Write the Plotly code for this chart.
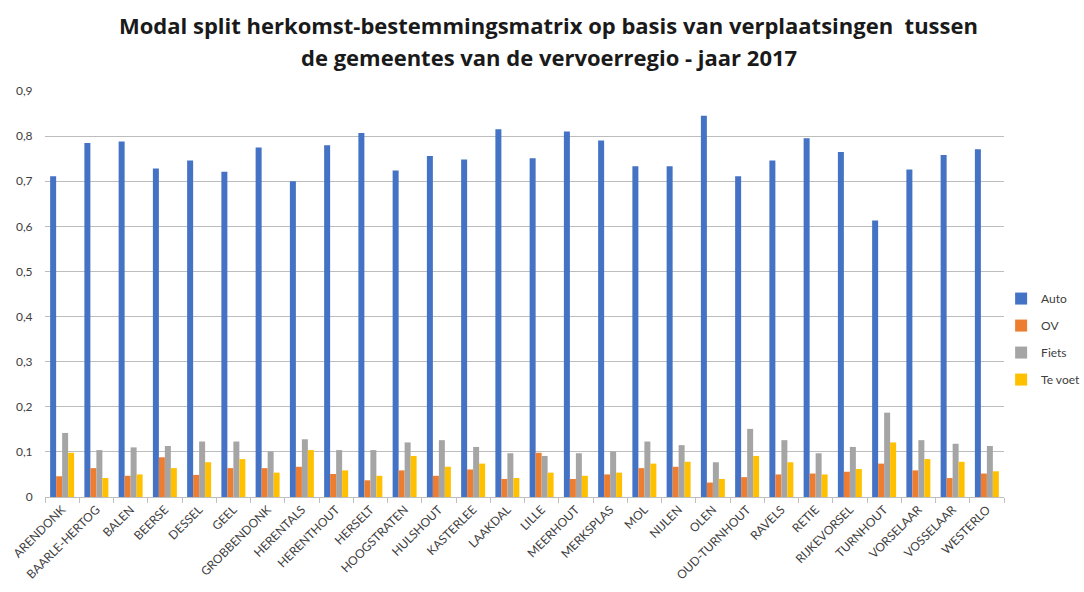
import plotly.graph_objects as go

gemeenten = [
    "ARENDONK", "BAARLE-HERTOG", "BALEN", "BEERSE", "DESSEL", "GEEL",
    "GROBBENDONK", "HERENTALS", "HERENTHOUT", "HERSELT", "HOOGSTRATEN",
    "HULSHOUT", "KASTERLEE", "LAAKDAL", "LILLE", "MEERHOUT", "MERKSPLAS",
    "MOL", "NIJLEN", "OLEN", "OUD-TURNHOUT", "RAVELS", "RETIE",
    "RIJKEVORSEL", "TURNHOUT", "VORSELAAR", "VOSSELAAR", "WESTERLO",
]

auto = [0.711, 0.785, 0.788, 0.728, 0.746, 0.721, 0.775, 0.700, 0.780,
        0.807, 0.724, 0.756, 0.748, 0.815, 0.751, 0.810, 0.790, 0.733,
        0.733, 0.845, 0.711, 0.746, 0.795, 0.765, 0.613, 0.726, 0.758,
        0.771]
ov = [0.046, 0.064, 0.047, 0.088, 0.049, 0.064, 0.064, 0.067, 0.051,
      0.037, 0.059, 0.047, 0.061, 0.040, 0.098, 0.040, 0.050, 0.064,
      0.067, 0.032, 0.044, 0.050, 0.052, 0.056, 0.074, 0.059, 0.042,
      0.052]
fiets = [0.142, 0.104, 0.110, 0.113, 0.123, 0.123, 0.101, 0.128, 0.104,
         0.104, 0.121, 0.126, 0.111, 0.097, 0.091, 0.097, 0.101, 0.123,
         0.115, 0.077, 0.151, 0.126, 0.097, 0.111, 0.187, 0.126, 0.118,
         0.113]
te_voet = [0.098, 0.042, 0.050, 0.064, 0.077, 0.084, 0.054, 0.104, 0.059,
           0.047, 0.091, 0.067, 0.074, 0.042, 0.054, 0.047, 0.054, 0.074,
           0.078, 0.040, 0.091, 0.077, 0.050, 0.062, 0.121, 0.084, 0.078,
           0.057]

y_ticks = [0, 0.1, 0.2, 0.3, 0.4, 0.5, 0.6, 0.7, 0.8, 0.9]
y_tick_labels = ["0", "0,1", "0,2", "0,3", "0,4", "0,5", "0,6", "0,7", "0,8", "0,9"]

title_lines = [
    "Modal split herkomst-bestemmingsmatrix op basis van verplaatsingen  tussen",
    "de gemeentes van de vervoerregio - jaar 2017",
]

series = [
    ("Auto", auto, "#4472C4"),
    ("OV", ov, "#ED7D31"),
    ("Fiets", fiets, "#A5A5A5"),
    ("Te voet", te_voet, "#FFC000"),
]

fig = go.Figure()
for i, (name, vals, color) in enumerate(series):
    fig.add_trace(go.Bar(
        x=gemeenten, y=vals, name=name, marker_color=color,
        marker_line_width=0, legendgroup=str(i),
    ))

font_family = "Lato, Carlito, 'Open Sans', sans-serif"
title_family = "'Open Sans', Lato, sans-serif"

# two-line chart heading, placed above the plot area
for text, ypos in zip(title_lines, [1.163, 1.084]):
    fig.add_annotation(
        text="<b>" + text.replace("  ", "&nbsp; ") + "</b>",
        xref="paper", yref="paper", x=0.5255, y=ypos,
        xanchor="center", yanchor="middle", showarrow=False,
        font=dict(family=title_family, size=22, color="#1a1a1a"),
    )

fig.update_layout(
    width=1084, height=592,
    margin=dict(l=45, r=80, t=91, b=95, autoexpand=False),
    paper_bgcolor="white", plot_bgcolor="white",
    barmode="group", bargap=0.3, bargroupgap=0,
    separators=", ",
    font=dict(family=font_family, color="#595959", size=12),
    legend=dict(
        x=0.997, xanchor="left", y=0.389, yanchor="middle",
        font=dict(size=12, color="#404040"),
        itemwidth=30, tracegroupgap=8, traceorder="grouped",
        bgcolor="rgba(0,0,0,0)",
    ),
    showlegend=True,
)

fig.update_xaxes(
    type="category", tickangle=-45,
    tickfont=dict(size=12, color="#404040"),
    showline=True, linecolor="#BFBFBF", linewidth=1,
    ticks="outside", tickson="boundaries", ticklen=5, tickcolor="#BFBFBF",
    showgrid=False,
)
fig.update_yaxes(
    range=[0, 0.9], tickvals=y_ticks, ticktext=y_tick_labels,
    showgrid=True, gridcolor="#BDBDBD", gridwidth=1,
    zeroline=False, showline=False,
    ticks="outside", ticklen=9, tickcolor="white",
    tickfont=dict(size=12, color="#404040"),
)

fig.write_html("out.html")
